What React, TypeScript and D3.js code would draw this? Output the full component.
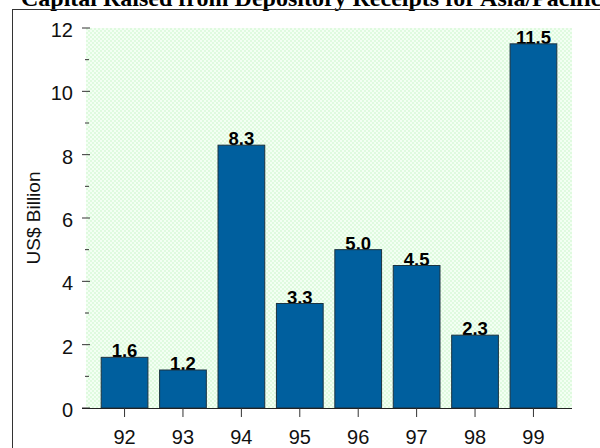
import React from "react";
import * as d3 from "d3";

const years = ["92", "93", "94", "95", "96", "97", "98", "99"];
const capitalRaised = [1.6, 1.2, 8.3, 3.3, 5.0, 4.5, 2.3, 11.5];
const yTicks = [0, 2, 4, 6, 8, 10, 12];
const yMinorTicks = [1, 3, 5, 7, 9, 11];
const chartTitle = "Capital Raised from Depository Receipts for Asia/Pacific";
const yAxisTitle = "US$ Billion";

const W = 600;
const H = 448;
const plot = { left: 86, right: 572, top: 28, bottom: 408 };

export default function App() {
  const x = d3
    .scaleBand<string>()
    .domain(years)
    .range([plot.left, plot.right])
    .paddingInner(0.2)
    .paddingOuter(0.26);
  const y = d3.scaleLinear().domain([0, 12]).range([plot.bottom, plot.top]);

  const sans = "'Liberation Sans', Arial, sans-serif";

  return (
    <svg
      width={W}
      height={H}
      style={{ position: "absolute", left: 0, top: 0, display: "block", background: "#fff" }}
    >
      <defs>
        <pattern id="bgDots" width="4" height="4" patternUnits="userSpaceOnUse">
          <rect width="4" height="4" fill="#dffadf" />
          <rect x="0" y="0" width="2" height="2" fill="#f3fff3" />
          <rect x="2" y="2" width="2" height="2" fill="#f3fff3" />
        </pattern>
      </defs>

      <text
        x={21}
        y={5.5}
        fontFamily="'Liberation Serif', 'Times New Roman', serif"
        fontWeight="bold"
        fontSize={24}
        fill="#000"
      >
        {chartTitle}
      </text>

      <rect x={12.5} y={9.5} width={620} height={460} fill="none" stroke="#333" strokeWidth={1} />

      <rect
        x={plot.left}
        y={plot.top}
        width={plot.right - plot.left}
        height={plot.bottom - plot.top}
        fill="url(#bgDots)"
      />

      {/* y-axis ticks and labels */}
      {yTicks.map((t) => (
        <g key={`y${t}`}>
          <line x1={82} x2={90} y1={y(t)} y2={y(t)} stroke="#333" strokeWidth={1} />
          <text
            x={73}
            y={y(t)}
            dy="0.45em"
            textAnchor="end"
            fontFamily={sans}
            fontSize={20}
            fill="#111"
          >
            {t}
          </text>
        </g>
      ))}
      {yMinorTicks.map((t) => (
        <line key={`m${t}`} x1={85} x2={89} y1={y(t)} y2={y(t)} stroke="#333" strokeWidth={1} />
      ))}

      <text
        transform={`translate(40, ${(plot.top + plot.bottom) / 2}) rotate(-90)`}
        textAnchor="middle"
        fontFamily={sans}
        fontSize={19}
        fill="#111"
      >
        {yAxisTitle}
      </text>

      {/* value labels rest on the bar tops; bars are drawn after them */}
      {years.map((yr, i) => {
        const v = capitalRaised[i];
        return (
          <text
            key={`l${yr}`}
            x={x(yr)! + x.bandwidth() / 2}
            y={y(v)}
            textAnchor="middle"
            fontFamily={sans}
            fontWeight="bold"
            fontSize={18.5}
            fill="#000"
          >
            {v.toFixed(1)}
          </text>
        );
      })}

      {years.map((yr, i) => {
        const v = capitalRaised[i];
        const by = y(v);
        return (
          <rect
            key={yr}
            x={x(yr)!}
            y={by}
            width={x.bandwidth()}
            height={y(0) - by}
            fill="#005f9e"
            stroke="#1c3340"
            strokeWidth={1}
          />
        );
      })}

      {/* x-axis */}
      <line x1={82} x2={plot.right} y1={plot.bottom + 0.5} y2={plot.bottom + 0.5} stroke="#222" strokeWidth={1} />
      {years.map((yr) => {
        const cx = x(yr)! + x.bandwidth() / 2;
        return (
          <g key={`x${yr}`}>
            <line x1={cx} x2={cx} y1={plot.bottom} y2={plot.bottom + 9} stroke="#333" strokeWidth={1} />
            <text
              x={cx}
              y={444}
              textAnchor="middle"
              fontFamily={sans}
              fontSize={20}
              fill="#111"
            >
              {yr}
            </text>
          </g>
        );
      })}
    </svg>
  );
}
